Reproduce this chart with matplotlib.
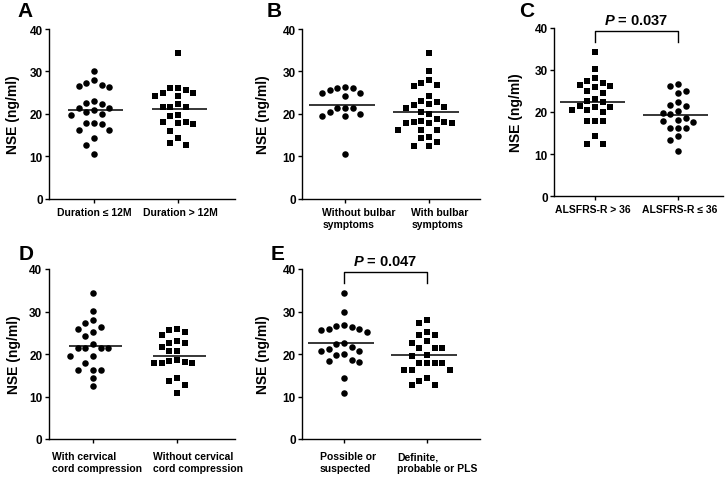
import numpy as np
import matplotlib
matplotlib.use('Agg')
import matplotlib.pyplot as plt

plt.rcParams['font.family'] = ['Liberation Sans', 'DejaVu Sans']
plt.rcParams['font.weight'] = 'bold'
plt.rcParams['mathtext.fontset'] = 'custom'
plt.rcParams['mathtext.it'] = 'Liberation Sans:italic:bold'
plt.rcParams['mathtext.rm'] = 'Liberation Sans:bold'

# NSE (ng/ml) per patient
dur_le12 = [30.2, 28.0, 27.2, 26.8, 26.5, 26.3, 23.0, 22.6, 22.4, 21.3, 21.3, 21.0,
            20.3, 20.0, 19.8, 17.8, 17.8, 17.6, 16.1, 16.1, 14.3, 12.6, 10.6]
dur_gt12 = [34.3, 26.1, 26.0, 25.7, 25.0, 25.0, 24.3, 24.1, 22.2, 21.5, 21.5, 21.5,
            19.7, 19.5, 18.1, 18.1, 17.7, 17.6, 16.0, 14.2, 13.2, 12.6]

no_bulbar = [26.3, 26.1, 26.0, 25.7, 25.0, 24.9, 24.3, 21.4, 21.3, 21.3, 20.5, 20.0,
             19.5, 19.4, 10.6]
bulbar = [34.3, 30.1, 27.9, 27.3, 26.9, 26.5, 24.3, 23.0, 22.7, 22.2, 22.1, 21.5,
          21.3, 20.5, 19.9, 18.8, 18.3, 18.0, 18.0, 17.9, 17.7, 17.7, 16.2, 16.2,
          16.2, 14.4, 14.2, 13.3, 12.5, 12.3]

alsfrs_hi = [34.3, 30.2, 28.0, 27.3, 26.9, 26.4, 26.1, 25.9, 25.1, 24.5, 23.1, 22.7,
             22.4, 21.5, 21.3, 21.1, 20.5, 20.5, 19.9, 17.9, 17.9, 17.9, 14.2, 12.4, 12.4]
alsfrs_lo = [26.6, 26.2, 25.1, 24.4, 22.4, 21.7, 21.4, 20.2, 19.8, 19.5, 18.5, 18.2,
             17.9, 17.7, 16.1, 16.1, 16.1, 14.2, 13.4, 10.8]

cord_yes = [34.4, 30.1, 27.9, 27.3, 26.4, 26.0, 25.1, 24.2, 22.4, 21.4, 21.3, 21.3,
            21.3, 19.6, 19.6, 17.8, 16.3, 16.3, 16.3, 14.3, 12.4]
cord_no = [25.9, 25.7, 25.1, 24.5, 23.0, 22.7, 22.6, 21.7, 20.6, 20.6, 18.6, 18.3,
           18.2, 18.0, 18.0, 18.0, 14.3, 13.6, 12.7, 10.8]

possible = [34.4, 30.0, 26.8, 26.5, 26.3, 26.0, 26.0, 25.7, 25.1, 22.5, 22.4, 21.6,
            21.2, 20.8, 20.6, 20.0, 19.8, 18.7, 18.4, 18.2, 14.3, 10.8]
definite = [28.0, 27.3, 25.1, 24.5, 24.5, 23.1, 22.7, 21.5, 21.5, 21.3, 19.8, 19.6,
            18.0, 18.0, 17.9, 17.9, 16.2, 16.2, 16.2, 14.4, 13.7, 12.8, 12.7]

labels_a = ['Duration \u2264 12M', 'Duration > 12M']
labels_b = ['Without bulbar\nsymptoms', 'With bulbar\nsymptoms']
labels_c = ['ALSFRS-R > 36', 'ALSFRS-R \u2264 36']
labels_d = ['With cervical\ncord compression', 'Without cervical\ncord compression']
labels_e = ['Possible or\nsuspected', 'Definite,\nprobable or PLS']

p_c = 'P = 0.037'
p_e = 'P = 0.047'

W, H = 727, 481
PT = 0.72  # points per pixel at 100 dpi


def swarm_offsets(values, step=0.091, gap=1.9):
    # grid beeswarm: points closer than `gap` go side by side
    values = np.asarray(values)
    placed = {}
    offs = np.zeros(len(values))
    for i in np.argsort(-values, kind='stable'):
        v = values[i]
        k = 0
        while True:
            col = ((k + 1) // 2) * (-1 if k % 2 == 1 else 1)
            if all(abs(v - u) >= gap for u in placed.get(col, [])):
                break
            k += 1
        placed.setdefault(col, []).append(v)
        offs[i] = col * step
    return offs


def panel(fig, letter, groups, labels, markers, box, ticks, letter_xy,
          span, labelpad, lab_dx, lab_dy, pval=None):
    L, R, top, bottom = box
    ax = fig.add_axes([L / W, 1 - bottom / H, (R - L) / W, (bottom - top) / H])
    t0, t1 = ticks
    ax.set_xlim((L - t0) / (t1 - t0), (R - t0) / (t1 - t0))
    ax.set_ylim(0, 40)

    for i, (vals, mk) in enumerate(zip(groups, markers)):
        x = i + swarm_offsets(vals)
        ax.scatter(x, vals, marker=mk, s=22, color='black', linewidths=0, zorder=3)
        ax.hlines(np.mean(vals), i + span[0], i + span[1], color='black', lw=1.1, zorder=4)

    ax.set_xticks([0, 1])
    ax.set_xticklabels(['', ''])
    for i, (lab, dx) in enumerate(zip(labels, lab_dx)):
        ax.annotate(lab, xy=(i, 0), xycoords=('data', 'axes fraction'),
                    xytext=(dx * PT, -lab_dy * PT), textcoords='offset points',
                    ha='center', va='top', ma='left', fontsize=7.5,
                    fontweight='bold', linespacing=1.28, annotation_clip=False)

    ax.set_yticks([0, 10, 20, 30, 40])
    ax.tick_params(axis='y', length=3, width=1, pad=1.5, labelsize=8.5)
    ax.tick_params(axis='x', length=3, width=1)
    ax.spines['top'].set_visible(False)
    ax.spines['right'].set_visible(False)
    for s in ('left', 'bottom'):
        ax.spines[s].set_linewidth(1)
    ax.set_ylabel('NSE (ng/ml)', fontsize=10, fontweight='bold', labelpad=labelpad)

    if pval:
        ax.plot([0, 0, 1, 1], [36.6, 39.3, 39.3, 36.6], color='black', lw=1,
                clip_on=False)
        ax.text(0.5, 41.9, r'$\it{P}$' + pval[1:], ha='center', va='center',
                fontsize=10.5, fontweight='bold', clip_on=False)

    fig.text(letter_xy[0] / W, 1 - letter_xy[1] / H, letter, fontsize=15,
             fontweight='bold', ha='left', va='baseline')
    return ax


fig = plt.figure(figsize=(W / 100, H / 100), dpi=100)

panel(fig, 'A', [dur_le12, dur_gt12], labels_a, ['o', 's'],
      (49, 235, 30, 199.5), (94, 178), (17, 17), (-0.31, 0.35), 6.5,
      (0, 2), 8)
panel(fig, 'B', [no_bulbar, bulbar], labels_b, ['o', 's'],
      (302, 480, 30, 199.5), (345, 429), (267, 17), (-0.43, 0.36), 9,
      (14, 11), 8)
panel(fig, 'C', [alsfrs_hi, alsfrs_lo], labels_c, ['s', 'o'],
      (554, 723, 28.7, 197.3), (595, 678), (519, 17), (-0.42, 0.36), 8,
      (-2, 2), 8, p_c)
panel(fig, 'D', [cord_yes, cord_no], labels_d, ['o', 's'],
      (48.5, 235, 270, 440), (93, 177), (19, 260), (-0.29, 0.35), 5.5,
      (4, 21), 12)
panel(fig, 'E', [possible, definite], labels_e, ['o', 's'],
      (302, 480, 270, 440), (344, 427), (271, 260), (-0.43, 0.36), 9,
      (4, 10), 12, p_e)

fig.savefig('out.png', dpi=100)
